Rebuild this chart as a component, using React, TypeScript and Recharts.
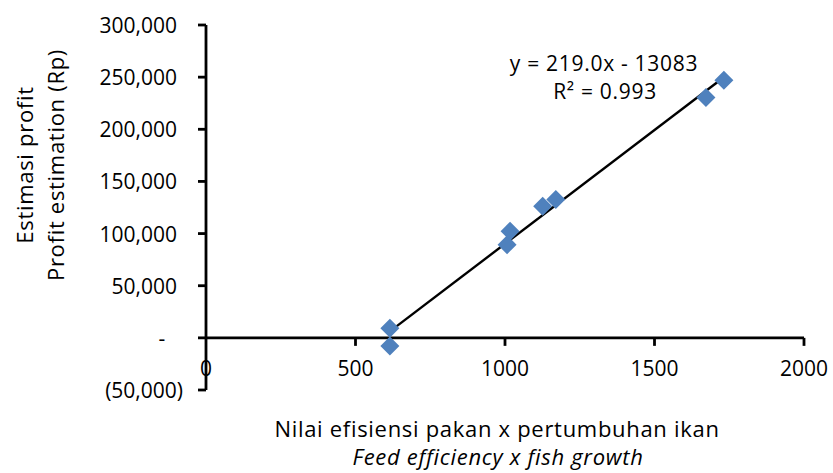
import React from "react";
import {
  ScatterChart,
  Scatter,
  XAxis,
  YAxis,
  ReferenceLine,
  Customized,
} from "recharts";

// Data
const feedGrowth = [615, 615, 1007, 1017, 1126, 1170, 1672, 1732];
const profit = [9300, -7700, 89400, 102200, 126200, 132700, 230500, 247100];
const xTicks = [0, 500, 1000, 1500, 2000];
const yTicks = [-50000, 0, 50000, 100000, 150000, 200000, 250000, 300000];
const equationLines = ["y = 219.0x - 13083", "R² = 0.993"];
const yTitleLines = ["Estimasi profit", "Profit estimation (Rp)"];
const xTitleLines = ["Nilai efisiensi pakan x pertumbuhan ikan", "Feed efficiency x fish growth"];

const points = feedGrowth.map((x, i) => ({ x, y: profit[i] }));

// least-squares trend line from the data
const n = points.length;
const mx = feedGrowth.reduce((a, b) => a + b, 0) / n;
const my = profit.reduce((a, b) => a + b, 0) / n;
let sxy = 0;
let sxx = 0;
points.forEach((p) => {
  sxy += (p.x - mx) * (p.y - my);
  sxx += (p.x - mx) * (p.x - mx);
});
const slope = sxy / sxx;
const intercept = my - slope * mx;
const xMin = Math.min(...feedGrowth);
const xMax = Math.max(...feedGrowth);
const trendSegment = [
  { x: xMin, y: slope * xMin + intercept },
  { x: xMax, y: slope * xMax + intercept },
];

const W = 833;
const H = 473;
const TOP = 25;
const PLOT_BOTTOM = 390;
const Y_MIN = -50000;
const Y_MAX = 300000;
const zeroY = TOP + ((PLOT_BOTTOM - TOP) * (Y_MAX - 0)) / (Y_MAX - Y_MIN);

const FONT = "'Open Sans', sans-serif";
const BLUE = "#4F81BD";
const AXIS_W = 2.8;

const fmtY = (v: number) => {
  if (v === 0) return "-";
  const s = Math.abs(v).toLocaleString("en-US");
  return v < 0 ? `(${s})` : s;
};

const YTick = (props: any) => {
  const { x, y, payload } = props;
  const v = payload.value;
  let tx = x - 19;
  let anchor: any = "end";
  if (v < 0) tx = x - 13;
  if (v === 0) {
    tx = x - 34;
    anchor = "middle";
  }
  return (
    <text
      x={tx}
      y={y}
      textAnchor={anchor}
      dominantBaseline="central"
      fontFamily={FONT}
      fontSize={21}
      fill="#000"
    >
      {fmtY(v)}
    </text>
  );
};

const XTick = (props: any) => {
  const { x, payload } = props;
  const v = payload.value;
  return (
    <g>
      {v !== 0 && (
        <line x1={x} x2={x} y1={zeroY} y2={zeroY + 8} stroke="#000" strokeWidth={AXIS_W} />
      )}
      <text
        x={x}
        y={zeroY + 30}
        textAnchor="middle"
        dominantBaseline="central"
        fontFamily={FONT}
        fontSize={21}
        fill="#000"
      >
        {v}
      </text>
    </g>
  );
};

const Diamond = (props: any) => {
  const { cx, cy } = props;
  const r = 9.5;
  return (
    <polygon
      points={`${cx},${cy - r} ${cx + r},${cy} ${cx},${cy + r} ${cx - r},${cy}`}
      fill={BLUE}
    />
  );
};

const Texts = () => (
  <g fontFamily={FONT} fill="#000">
    <text x={604} y={71} textAnchor="middle" fontSize={21} letterSpacing={0.7}>
      {equationLines[0]}
    </text>
    <text x={605} y={99} textAnchor="middle" fontSize={21} letterSpacing={0.7}>
      {equationLines[1]}
    </text>
    <text
      transform="translate(24,165) rotate(-90)"
      textAnchor="middle"
      dominantBaseline="central"
      fontSize={22}
      letterSpacing={0.7}
    >
      {yTitleLines[0]}
    </text>
    <text
      transform="translate(55,165) rotate(-90)"
      textAnchor="middle"
      dominantBaseline="central"
      fontSize={22}
      letterSpacing={0.7}
    >
      {yTitleLines[1]}
    </text>
    <text x={497} y={437} textAnchor="middle" fontSize={22} letterSpacing={0.7}>
      {xTitleLines[0]}
    </text>
    <text x={498} y={465} textAnchor="middle" fontSize={22} letterSpacing={0.7} fontStyle="italic">
      {xTitleLines[1]}
    </text>
  </g>
);

export default function App() {
  return (
    <div style={{ position: "absolute", left: 0, top: 0, width: W, height: H, background: "#fff" }}>
      <ScatterChart
        width={W}
        height={H}
        margin={{ top: TOP, right: 29, bottom: H - PLOT_BOTTOM - 30, left: 0 }}
      >
        <XAxis
          type="number"
          dataKey="x"
          domain={[0, 2000]}
          ticks={xTicks}
          axisLine={false}
          tickLine={false}
          tick={<XTick />}
          height={30}
          interval={0}
        />
        <YAxis
          type="number"
          dataKey="y"
          domain={[Y_MIN, Y_MAX]}
          ticks={yTicks}
          width={206}
          axisLine={{ stroke: "#000", strokeWidth: AXIS_W }}
          tickLine={{ stroke: "#000", strokeWidth: AXIS_W }}
          tickSize={8}
          tickMargin={2}
          tick={<YTick />}
          interval={0}
        />
        <ReferenceLine y={0} stroke="#000" strokeWidth={AXIS_W} />
        <Scatter data={points} shape={<Diamond />} isAnimationActive={false} />
        <ReferenceLine segment={trendSegment} stroke="#000" strokeWidth={2.4} />
        <Customized component={Texts} />
      </ScatterChart>
    </div>
  );
}
